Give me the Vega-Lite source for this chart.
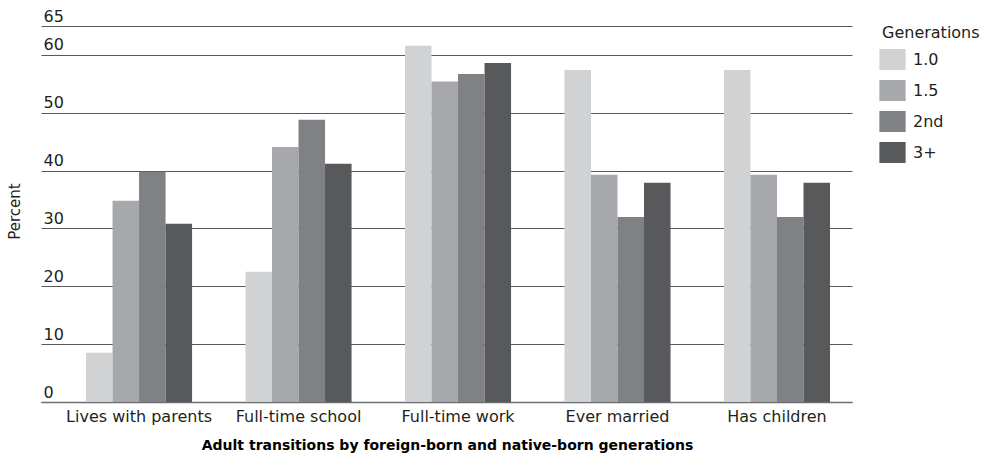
{
  "$schema": "https://vega.github.io/schema/vega-lite/v6.json",
  "width": 811,
  "height": 376,
  "autosize": "none",
  "padding": {"left": 41, "top": 26, "right": 136, "bottom": 62},
  "background": "white",
  "config": {
    "font": "DejaVu Sans",
    "view": {"stroke": null}
  },
  "data": {
    "values": [
      {"category": "Lives with parents", "generation": "1.0", "percent": 8.5},
      {"category": "Lives with parents", "generation": "1.5", "percent": 34.8},
      {"category": "Lives with parents", "generation": "2nd", "percent": 39.8},
      {"category": "Lives with parents", "generation": "3+", "percent": 30.8},
      {"category": "Full-time school", "generation": "1.0", "percent": 22.5},
      {"category": "Full-time school", "generation": "1.5", "percent": 44.1},
      {"category": "Full-time school", "generation": "2nd", "percent": 48.8},
      {"category": "Full-time school", "generation": "3+", "percent": 41.2},
      {"category": "Full-time work", "generation": "1.0", "percent": 61.6},
      {"category": "Full-time work", "generation": "1.5", "percent": 55.4},
      {"category": "Full-time work", "generation": "2nd", "percent": 56.7},
      {"category": "Full-time work", "generation": "3+", "percent": 58.6},
      {"category": "Ever married", "generation": "1.0", "percent": 57.4},
      {"category": "Ever married", "generation": "1.5", "percent": 39.3},
      {"category": "Ever married", "generation": "2nd", "percent": 32.0},
      {"category": "Ever married", "generation": "3+", "percent": 37.9},
      {"category": "Has children", "generation": "1.0", "percent": 57.4},
      {"category": "Has children", "generation": "1.5", "percent": 39.3},
      {"category": "Has children", "generation": "2nd", "percent": 32.0},
      {"category": "Has children", "generation": "3+", "percent": 37.9}
    ]
  },
  "mark": {"type": "bar"},
  "encoding": {
    "x": {
      "field": "category",
      "type": "nominal",
      "sort": null,
      "scale": {"paddingInner": 0.335, "paddingOuter": 0.21, "align": 0.672},
      "axis": {
        "title": "Adult transitions by foreign-born and native-born generations",
        "titleFont": "DejaVu Sans",
        "titleFontWeight": "bold",
        "titleFontSize": 14,
        "titleColor": "#000000",
        "titleX": 406,
        "titlePadding": 14,
        "labelAngle": 0,
        "labelFontSize": 16,
        "labelColor": "#231f20",
        "labelPadding": 6,
        "ticks": false,
        "domainColor": "#6d6e71",
        "domainWidth": 1.5
      }
    },
    "xOffset": {"field": "generation", "type": "nominal", "sort": ["1.0", "1.5", "2nd", "3+"], "scale": {"paddingInner": 0, "paddingOuter": 0}},
    "y": {
      "field": "percent",
      "type": "quantitative",
      "scale": {"domain": [0, 65], "nice": false},
      "axis": {
        "title": "Percent",
        "titleFontSize": 15,
        "titleFontWeight": "normal",
        "titleColor": "#231f20",
        "titleX": -19,
        "titleY": 185,
        "titleAngle": -90,
        "values": [0, 10, 20, 30, 40, 50, 60, 65],
        "labelAlign": "left",
        "labelBaseline": "alphabetic",
        "labelOffset": -5,
        "labelPadding": -2,
        "labelFontSize": 16,
        "labelColor": "#231f20",
        "ticks": false,
        "domain": false,
        "grid": true,
        "gridColor": "#58595b",
        "gridWidth": 1.2
      }
    },
    "color": {
      "field": "generation",
      "type": "nominal",
      "sort": ["1.0", "1.5", "2nd", "3+"],
      "scale": {"domain": ["1.0", "1.5", "2nd", "3+"], "range": ["#d1d2d4", "#a7a8ab", "#808184", "#58595b"]},
      "legend": {
        "title": "Generations",
        "orient": "none",
        "legendX": 841,
        "legendY": -1,
        "titleFontSize": 16,
        "titleFontWeight": "normal",
        "titleColor": "#231f20",
        "titlePadding": 8,
        "labelFontSize": 16,
        "labelColor": "#231f20",
        "labelOffset": 10,
        "symbolType": "M-1.25,-1L1.25,-1L1.25,1L-1.25,1Z",
        "symbolSize": 441,
        "symbolStrokeWidth": 0,
        "symbolOpacity": 1,
        "rowPadding": 10
      }
    }
  }
}
